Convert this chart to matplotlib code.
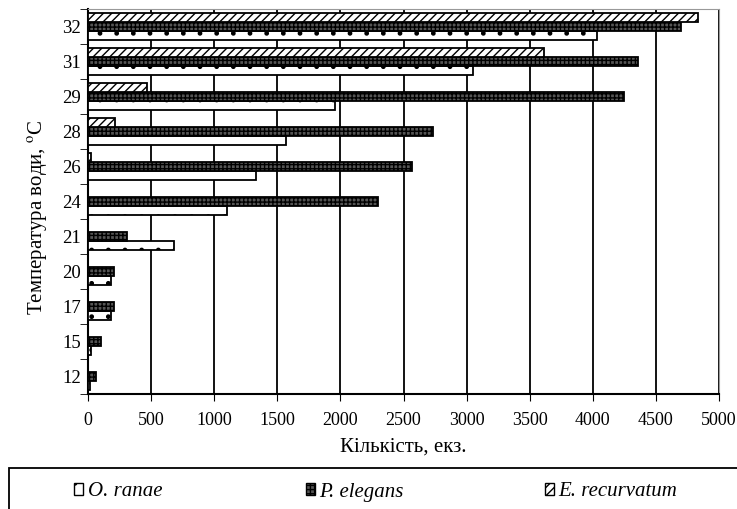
import numpy as np
import matplotlib
matplotlib.use("Agg")
import matplotlib.pyplot as plt
from matplotlib.patches import Patch, Rectangle

plt.rcParams['font.family'] = ['Liberation Serif', 'DejaVu Serif']
plt.rcParams['mathtext.fontset'] = 'stix'
plt.rcParams['hatch.linewidth'] = 1.0

temps = ['12', '15', '17', '20', '21', '24', '26', '28', '29', '31', '32']
o_ranae = [15, 25, 180, 180, 680, 1100, 1330, 1570, 1960, 3050, 4030]
p_elegans = [60, 100, 205, 205, 310, 2300, 2570, 2730, 4250, 4360, 4700]
e_recurvatum = [0, 0, 0, 0, 0, 0, 25, 210, 470, 3610, 4830]

W, H = 737, 509
fig, ax = plt.subplots(figsize=(7.37, 5.09), dpi=100)
fig.subplots_adjust(left=88 / W, right=719 / W, top=1 - 9 / H, bottom=1 - 394 / H)

y = np.arange(len(temps))
w = 0.25
ax.barh(y - w, o_ranae, height=w, color='white', edgecolor='black', hatch='.', linewidth=1.3, zorder=3)
ax.barh(y, p_elegans, height=w, color='#555555', edgecolor='black', hatch='++++', linewidth=1.3, zorder=3)
ax.barh(y + w, e_recurvatum, height=w, color='white', edgecolor='black', hatch='////', linewidth=1.3, zorder=3)

ax.set_xlim(0, 5000)
ax.set_ylim(-0.5, len(temps) - 0.5)
ax.set_xticks(np.arange(0, 5001, 500))
ax.set_yticks(y)
ax.set_yticklabels(temps)
ax.set_yticks(np.arange(-0.5, len(temps), 1), minor=True)
ax.tick_params(axis='y', which='major', length=0, labelsize=13.5, pad=5)
ax.tick_params(axis='y', which='minor', length=6, direction='out')
ax.tick_params(axis='x', length=5, direction='out', labelsize=13, pad=8)
ax.xaxis.grid(True, color='black', linewidth=1.3, zorder=0)
ax.set_axisbelow(True)

for s in ['top', 'right']:
    ax.spines[s].set_color('#999999')
ax.spines['left'].set_linewidth(1.5)
ax.spines['bottom'].set_linewidth(1.5)

ax.set_xlabel('Кількість, екз.', fontsize=15, labelpad=6)
ax.set_ylabel(r'Температура води, $^{\mathrm{o}}$C', fontsize=15)
ax.yaxis.set_label_coords(-0.061, 0.46)

# legend box spanning the bottom of the figure
fig.patches.append(Rectangle((8.5 / W, -0.02), 1.0, 1 - 468 / H + 0.02, transform=fig.transFigure,
                             fill=False, edgecolor='black', linewidth=1.3))

handles = [
    Patch(facecolor='white', edgecolor='black', hatch='.'),
    Patch(facecolor='#555555', edgecolor='black', hatch='++++'),
    Patch(facecolor='white', edgecolor='black', hatch='////'),
]
labels = ['O. ranae', 'P. elegans', 'E. recurvatum']
xpos = [74, 306, 545]
for h, lab, xp in zip(handles, labels, xpos):
    fig.legend([h], [lab], loc='center left', bbox_to_anchor=(xp / W, 1 - 492 / H),
               frameon=False, prop={'style': 'italic', 'size': 15},
               handlelength=0.45, handleheight=0.45, handletextpad=0.2,
               borderpad=0, borderaxespad=0)

fig.savefig('out.png', dpi=100)
